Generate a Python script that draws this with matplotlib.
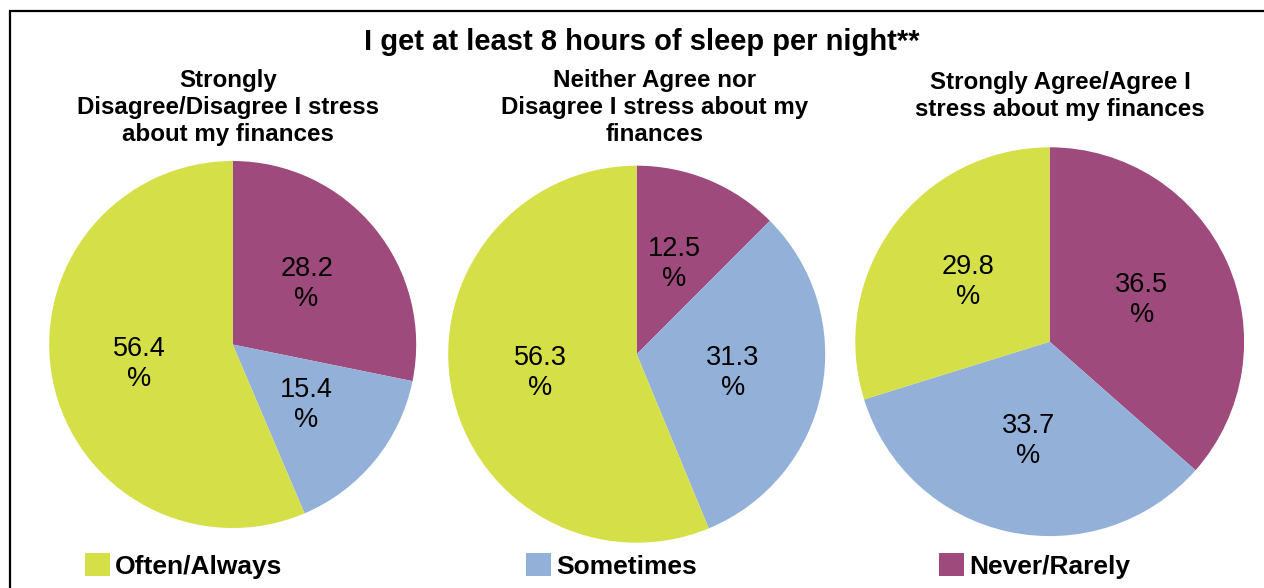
import matplotlib.pyplot as plt
from matplotlib.patches import Rectangle, Patch

plt.rcParams['font.family'] = ['Liberation Sans', 'DejaVu Sans']

# data
categories = ['Often/Always', 'Sometimes', 'Never/Rarely']
colors = ['#D5DF48', '#93B1D8', '#9E4A7D']
group_titles = ['Strongly\nDisagree/Disagree I stress\nabout my finances',
                'Neither Agree nor\nDisagree I stress about my\nfinances',
                'Strongly Agree/Agree I\nstress about my finances']
often = [56.4, 56.3, 29.8]
sometimes = [15.4, 31.3, 33.7]
never = [28.2, 12.5, 36.5]

W, H = 1264, 588
fig = plt.figure(figsize=(W / 100, H / 100), dpi=100)

# pie centres / radii in pixels (layout only)
pies = [(232.7, 344.5, 183.5), (636.7, 354.2, 188.5), (1049.7, 341.7, 194.4)]
title_x = [228, 655, 1060]
title_y = [69, 69, 71]

for i, (cx, cy, r) in enumerate(pies):
    ax = fig.add_axes([(cx - r) / W, (H - cy - r) / H, 2 * r / W, 2 * r / H])
    vals = [never[i], sometimes[i], often[i]]
    labs = ['%.1f\n%%' % v for v in vals]
    wedges, texts = ax.pie(vals, colors=colors[::-1], startangle=90, counterclock=False,
                           labels=labs, labeldistance=0.52,
                           wedgeprops={'linewidth': 0},
                           textprops={'fontsize': 19.5})
    for t in texts:
        t.set_ha('center')
        t.set_va('center')
        t.set_multialignment('center')
    ax.set_xlim(-1, 1)
    ax.set_ylim(-1, 1)
    fig.text(title_x[i] / W, 1 - title_y[i] / H, group_titles[i], ha='center', va='top',
             fontsize=17.4, fontweight='bold', linespacing=1.22)

fig.text(642 / W, 1 - 42 / H, 'I get at least 8 hours of sleep per night**',
         ha='center', va='center', fontsize=21, fontweight='bold')

# frame (runs off the right and bottom like the source)
fig.add_artist(Rectangle((10 / W, -0.1), 1.2, 1.1 - 11 / H, transform=fig.transFigure,
                         fill=False, edgecolor='black', linewidth=1.6))

handles = [Patch(facecolor=c, edgecolor='none') for c in colors]
fig.legend(handles, categories, loc='center left', bbox_to_anchor=(85 / W, 1 - 566 / H),
           ncol=3, frameon=False, prop={'size': 19, 'weight': 'bold'},
           handlelength=0.95, handleheight=0.95, handletextpad=0.2,
           columnspacing=9.2, borderaxespad=0, borderpad=0)

fig.savefig('out.png', dpi=100)
